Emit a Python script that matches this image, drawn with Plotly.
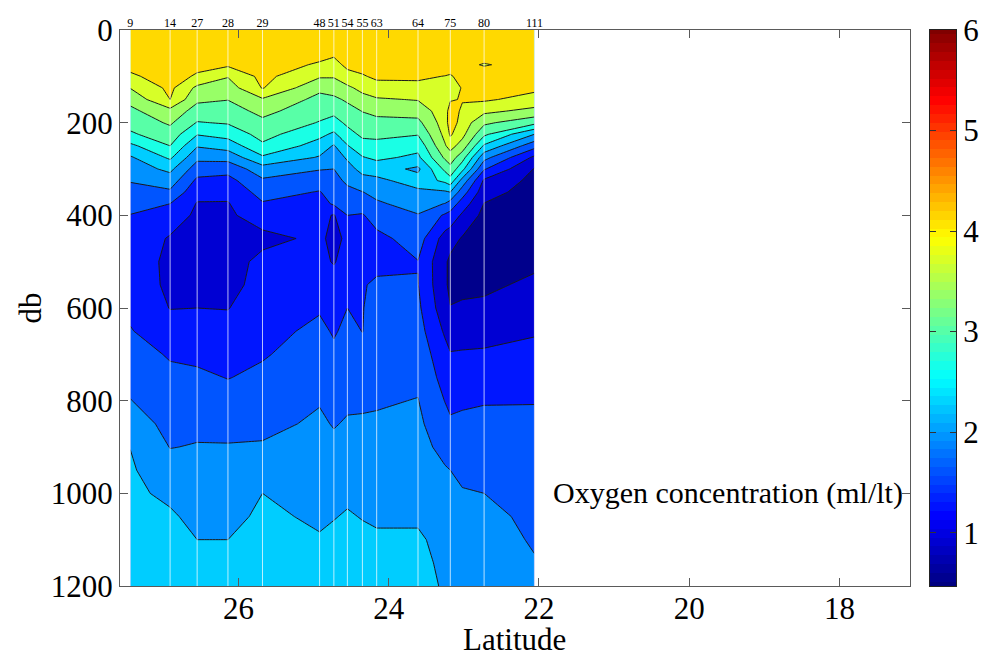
import numpy as np
import plotly.graph_objects as go

# Station numbers and their latitudes
stations = ["9", "14", "27", "28", "29", "48", "51", "54", "55", "63", "64", "75", "80", "111"]
latitudes = [27.44, 26.91, 26.55, 26.14, 25.68, 24.92, 24.73, 24.55, 24.35, 24.16, 23.61, 23.18, 22.73, 22.06]

# Section columns: the stations plus two extra readings around the tongue near station 75
grid_latitudes = [27.44, 26.91, 26.55, 26.14, 25.68, 24.92, 24.73, 24.55, 24.35, 24.16, 23.61, 23.25, 23.18,
                  23.02, 22.73, 22.06]

depths = [0, 50, 75, 100, 125, 150, 175, 200, 225, 250, 275, 300, 325, 350, 375, 400,
          450, 500, 550, 600, 650, 700, 750, 800, 850, 900, 950, 1000, 1050, 1100, 1150, 1200]

# Oxygen (ml/lt) read from the section, one list per column, top to bottom
o2_s9 = [4.6, 4.34, 4.21, 4.04, 3.76, 3.50, 3.32, 3.17, 3.00, 2.62, 2.31, 2.17, 2.02, 1.89, 1.76, 1.64,
         1.52, 1.45, 1.45, 1.58, 1.67, 1.78, 1.90, 2.01, 2.17, 2.345, 2.39, 2.41, 2.45, 2.48, 2.52, 2.55]
o2_s14 = [4.6, 4.43, 4.35, 4.27, 4.18, 4.10, 3.64, 3.45, 3.25, 3.05, 2.76, 2.43, 2.18, 1.94, 1.65, 1.47,
          1.27, 1.24, 1.25, 1.29, 1.45, 1.62, 1.72, 1.81, 1.90, 1.99, 2.14, 2.29, 2.39, 2.44, 2.50, 2.55]
o2_s27 = [4.6, 4.34, 4.21, 4.05, 3.67, 3.47, 3.25, 3.03, 2.72, 2.38, 2.09, 1.82, 1.58, 1.40, 1.28, 1.24,
          1.17, 1.13, 1.22, 1.30, 1.44, 1.58, 1.71, 1.81, 1.92, 2.02, 2.10, 2.18, 2.27, 2.35, 2.42, 2.50]
o2_s28 = [4.6, 4.31, 4.16, 3.77, 3.58, 3.41, 3.24, 3.08, 2.83, 2.50, 2.13, 1.77, 1.54, 1.38, 1.28, 1.24,
          1.17, 1.14, 1.22, 1.29, 1.41, 1.53, 1.64, 1.77, 1.90, 2.02, 2.10, 2.18, 2.27, 2.35, 2.42, 2.50]
o2_s29 = [4.6, 4.40, 4.30, 4.20, 4.12, 3.71, 3.50, 3.32, 3.17, 2.99, 2.65, 2.20, 1.95, 1.78, 1.62, 1.47,
          1.20, 1.40, 1.39, 1.47, 1.55, 1.62, 1.72, 1.82, 1.92, 2.03, 2.19, 2.35, 2.40, 2.45, 2.50, 2.55]
o2_s48 = [4.6, 4.24, 4.05, 3.79, 3.48, 3.30, 3.17, 3.03, 2.79, 2.55, 2.32, 2.02, 1.81, 1.63, 1.50, 1.42,
          1.37, 1.37, 1.45, 1.62, 1.72, 1.81, 1.90, 1.98, 2.05, 2.12, 2.18, 2.25, 2.31, 2.37, 2.44, 2.50]
o2_s51 = [4.6, 4.17, 3.97, 3.78, 3.55, 3.33, 3.14, 2.92, 2.64, 2.32, 2.16, 2.00, 1.90, 1.80, 1.70, 1.27,
          1.20, 1.28, 1.42, 1.53, 1.62, 1.71, 1.80, 1.89, 1.98, 2.07, 2.16, 2.25, 2.34, 2.40, 2.45, 2.50]
o2_s54 = [4.6, 4.32, 4.19, 3.97, 3.68, 3.45, 3.28, 3.12, 2.92, 2.68, 2.40, 2.22, 2.06, 1.92, 1.78, 1.65,
          1.37, 1.42, 1.50, 1.65, 1.72, 1.80, 1.87, 1.95, 2.03, 2.17, 2.26, 2.31, 2.37, 2.41, 2.46, 2.50]
o2_s55 = [4.6, 4.36, 4.22, 4.07, 3.85, 3.63, 3.41, 3.27, 3.12, 2.92, 2.68, 2.46, 2.23, 1.99, 1.82, 1.62,
          1.56, 1.58, 1.63, 1.64, 1.645, 1.74, 1.84, 1.95, 2.04, 2.11, 2.19, 2.27, 2.34, 2.40, 2.45, 2.50]
o2_s63 = [4.6, 4.38, 4.27, 4.16, 3.98, 3.71, 3.49, 3.30, 3.13, 2.95, 2.77, 2.51, 2.27, 2.10, 1.95, 1.81,
          1.55, 1.58, 1.69, 1.74, 1.80, 1.85, 1.92, 1.97, 2.04, 2.11, 2.18, 2.25, 2.32, 2.38, 2.44, 2.50]
o2_s64 = [4.6, 4.38, 4.27, 4.16, 4.00, 3.77, 3.54, 3.31, 3.07, 2.81, 2.63, 2.28, 2.50, 2.28, 2.14, 1.98,
          1.81, 1.64, 1.66, 1.72, 1.79, 1.87, 1.94, 2.01, 2.07, 2.13, 2.19, 2.25, 2.31, 2.39, 2.43, 2.48]
o2_w75 = [4.6, 4.42, 4.30, 4.09, 3.98, 3.97, 3.96, 3.93, 3.85, 3.72, 3.46, 3.13, 2.78, 2.30, 1.99, 1.60,
          1.15, 1.00, 1.00, 1.08, 1.25, 1.41, 1.52, 1.64, 1.76, 1.89, 2.03, 2.11, 2.18, 2.26, 2.29, 2.31]
o2_s75 = [4.6, 4.40, 4.25, 4.07, 3.95, 4.07, 4.25, 4.30, 4.15, 3.88, 3.58, 3.29, 2.91, 2.35, 1.86, 1.53,
          1.08, 0.88, 0.88, 0.96, 1.15, 1.32, 1.44, 1.57, 1.70, 1.85, 2.00, 2.08, 2.15, 2.23, 2.26, 2.28]
o2_e75 = [4.6, 4.45, 4.35, 4.20, 4.12, 4.12, 4.05, 3.95, 3.85, 3.60, 3.20, 2.80, 2.22, 1.81, 1.49, 1.24,
          0.92, 0.85, 0.86, 1.00, 1.17, 1.33, 1.47, 1.60, 1.72, 1.83, 1.94, 2.02, 2.10, 2.17, 2.22, 2.26]
o2_s80 = [4.7, 4.60, 4.03, 4.60, 4.40, 4.15, 3.83, 3.47, 3.12, 2.65, 2.12, 1.68, 1.25, 1.10, 0.94, 0.85,
          0.78, 0.78, 0.88, 1.02, 1.19, 1.34, 1.48, 1.63, 1.73, 1.82, 1.92, 2.00, 2.07, 2.13, 2.19, 2.25]
o2_s111 = [4.7, 4.50, 4.50, 4.35, 4.18, 3.97, 3.65, 3.16, 2.35, 1.78, 1.23, 0.93, 0.85, 0.78, 0.72, 0.70,
           0.75, 0.88, 1.02, 1.15, 1.27, 1.39, 1.52, 1.64, 1.70, 1.77, 1.83, 1.89, 1.94, 1.97, 2.02, 2.10]

by_column = [o2_s9, o2_s14, o2_s27, o2_s28, o2_s29, o2_s48, o2_s51, o2_s54, o2_s55, o2_s63,
             o2_s64, o2_w75, o2_s75, o2_e75, o2_s80, o2_s111]

# Band colours, lowest band first
band_colors = ["rgb(0,0,140)", "rgb(0,0,211)", "rgb(0,22,255)", "rgb(0,85,255)", "rgb(0,145,255)",
               "rgb(0,205,255)", "rgb(26,255,229)", "rgb(88,255,167)", "rgb(152,255,103)",
               "rgb(215,255,40)", "rgb(255,217,0)"]

jet_stops = [[0, "rgb(0,0,128)"], [0.125, "rgb(0,0,255)"], [0.375, "rgb(0,255,255)"],
             [0.625, "rgb(255,255,0)"], [0.875, "rgb(255,0,0)"], [1, "rgb(128,0,0)"]]

W, H = 981, 655
L, R, T, B = 119.5, 956, 30, 586
pw = R - L
AXIS = "#5a5a5a"
SERIF = "Liberation Serif"

z = np.array(by_column).T
n = len(band_colors)
band_scale = [[i / (n - 1), c] for i, c in enumerate(band_colors)]

fig = go.Figure()
fig.add_trace(go.Contour(
    x=grid_latitudes, y=depths, z=z,
    autocontour=False,
    contours=dict(start=0.95, end=4.1, size=0.35, coloring="fill"),
    colorscale=band_scale, showscale=False,
    line=dict(color="#1a1a1a", width=1, smoothing=0),
    hoverinfo="skip",
))

# White lines at the stations
lx, ly = [], []
for lat in latitudes:
    lx += [lat, lat, None]
    ly += [depths[0], depths[-1], None]
fig.add_trace(go.Scatter(x=lx, y=ly, mode="lines",
                         line=dict(color="rgba(255,255,255,0.72)", width=1),
                         hoverinfo="skip", showlegend=False))

# Colour key
key_values = np.linspace(0.47, 6, 64)
fig.add_trace(go.Heatmap(x=[0, 1], y=key_values, z=np.column_stack([key_values, key_values]),
                         xaxis="x2", yaxis="y2", colorscale=jet_stops, zmin=0.47, zmax=6,
                         showscale=False, hoverinfo="skip"))

# Station labels on the top edge
fig.add_trace(go.Scatter(x=latitudes, y=[0] * len(latitudes), xaxis="x3", mode="markers",
                         marker=dict(opacity=0, size=1), hoverinfo="skip", showlegend=False))

tick_font = dict(family=SERIF, size=31, color="black")
title_font = dict(family=SERIF, size=31, color="black")
fig.update_layout(
    width=W, height=H, autosize=False,
    margin=dict(l=L, r=W - R, t=T, b=H - B, pad=0, autoexpand=False),
    paper_bgcolor="white", plot_bgcolor="white", showlegend=False,
    font=dict(family=SERIF, color="black"),
    xaxis=dict(domain=[0, (910 - L) / pw], range=[27.577, 17.06], tickvals=[26, 24, 22, 20, 18],
               ticks="inside", ticklen=8, tickcolor=AXIS, showline=True, linecolor=AXIS, mirror="ticks",
               showgrid=False, zeroline=False, tickfont=tick_font, automargin=False, tickangle=0,
               ticklabelstandoff=-5),
    yaxis=dict(range=[1200, 0], tickvals=[0, 200, 400, 600, 800, 1000, 1200], ticks="inside", ticklen=8,
               tickcolor=AXIS, showline=True, linecolor=AXIS, mirror="ticks", showgrid=False, zeroline=False,
               tickfont=tick_font, automargin=False),
    xaxis2=dict(domain=[(930 - L) / pw, 1], range=[0, 1], anchor="y2", showticklabels=False, ticks="",
                showline=True, linecolor="#222", mirror=True, showgrid=False, zeroline=False, automargin=False),
    yaxis2=dict(domain=[0, 1], range=[0.47, 6], anchor="x2", side="right", tickvals=[1, 2, 3, 4, 5, 6],
                ticks="inside", ticklen=6, tickcolor="#333", showline=True, linecolor="#222", mirror="ticks",
                showgrid=False, zeroline=False, tickfont=tick_font, automargin=False),
    xaxis3=dict(overlaying="x", side="top", anchor="y", range=[27.577, 17.06], tickvals=latitudes,
                ticktext=stations, ticks="", showline=False, showgrid=False, zeroline=False,
                tickfont=dict(family=SERIF, size=12, color="black"), tickangle=0, automargin=False),
    annotations=[
        dict(text="Oxygen concentration (ml/lt)", xref="x", yref="y", x=19.48, y=1000,
             showarrow=False, font=dict(family=SERIF, size=30, color="black")),
        dict(text="Latitude", xref="paper", yref="paper", x=(514.5 - L) / pw, y=(586 - 639) / (B - T),
             xanchor="center", yanchor="middle", showarrow=False, font=title_font),
        dict(text="db", xref="paper", yref="paper", x=(29 - L) / pw, y=(586 - 308) / (B - T), textangle=-90,
             xanchor="center", yanchor="middle", showarrow=False, font=title_font),
    ],
)
fig.write_html("out.html", post_script="document.body.style.margin='0';",
               config={"displayModeBar": False})
